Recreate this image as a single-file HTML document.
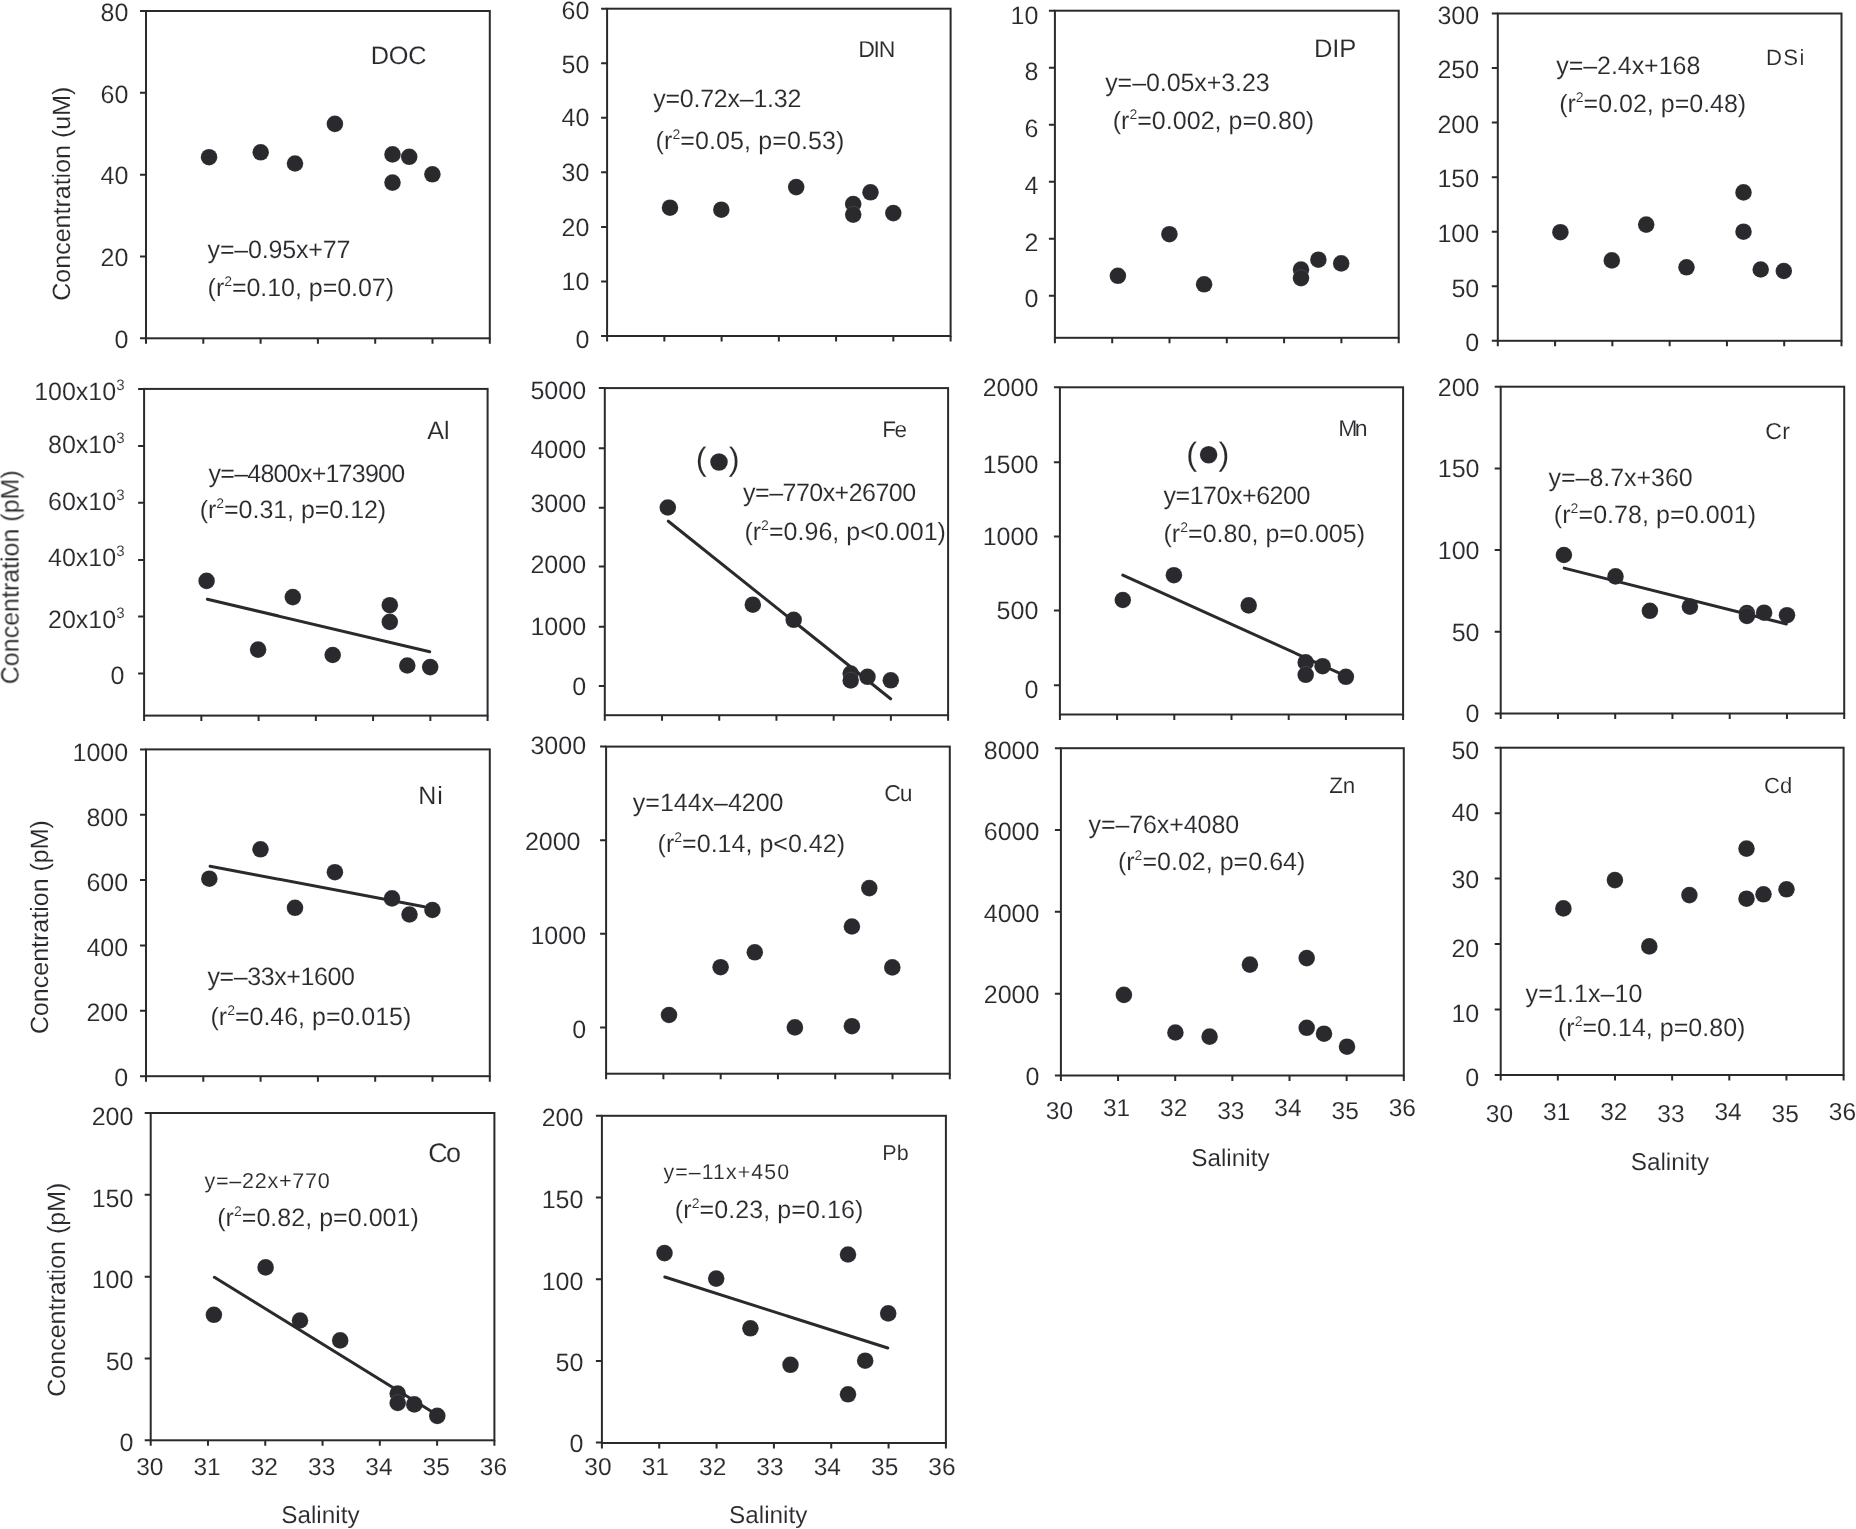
<!DOCTYPE html>
<html><head><meta charset="utf-8"><title>Figure</title>
<style>html,body{margin:0;padding:0;background:#fff;}svg{display:block;}</style>
</head><body>
<svg width="1856" height="1529" viewBox="0 0 1856 1529">
<defs><filter id="soft" x="0" y="0" width="100%" height="100%" filterUnits="userSpaceOnUse"><feGaussianBlur stdDeviation="0.4"/></filter></defs>
<rect width="1856" height="1529" fill="#fff"/>
<g filter="url(#soft)">
<g fill="#2a2a2e" font-family='"Liberation Sans", sans-serif' text-rendering="geometricPrecision" stroke="#fff" stroke-width="0.12">
<text x="128.4" y="20.9" font-size="25" text-anchor="end">80</text>
<text x="128.4" y="102.6" font-size="25" text-anchor="end">60</text>
<text x="128.4" y="184.4" font-size="25" text-anchor="end">40</text>
<text x="128.4" y="266.2" font-size="25" text-anchor="end">20</text>
<text x="128.4" y="347.9" font-size="25" text-anchor="end">0</text>
<circle cx="209.06" cy="157.2" r="8.3"/>
<circle cx="260.7" cy="152.3" r="8.3"/>
<circle cx="295" cy="163.5" r="8.3"/>
<circle cx="334.9" cy="123.9" r="8.3"/>
<circle cx="392.5" cy="154.4" r="8.3"/>
<circle cx="409.2" cy="156.8" r="8.3"/>
<circle cx="392.5" cy="182.6" r="8.3"/>
<circle cx="432.4" cy="174.3" r="8.3"/>
<text x="370.8" y="63.5" font-size="25.3" letter-spacing="-0.3">DOC</text>
<text x="207.6" y="257.8" font-size="25" textLength="142.8" lengthAdjust="spacing">y=–0.95x+77</text>
<text x="207.6" y="296.3" font-size="25" textLength="186.4" lengthAdjust="spacing">(r<tspan font-size="14" dy="-10">2</tspan><tspan font-size="25" dy="10">=0.10, p=0.07)</tspan></text>
<text x="589.3" y="18.5" font-size="25" text-anchor="end">60</text>
<text x="589.3" y="73.2" font-size="25" text-anchor="end">50</text>
<text x="589.3" y="126.2" font-size="25" text-anchor="end">40</text>
<text x="589.3" y="180.9" font-size="25" text-anchor="end">30</text>
<text x="589.3" y="236.2" font-size="25" text-anchor="end">20</text>
<text x="589.3" y="289.7" font-size="25" text-anchor="end">10</text>
<text x="589.3" y="347.9" font-size="25" text-anchor="end">0</text>
<circle cx="670" cy="207.7" r="8.3"/>
<circle cx="721.3" cy="209.7" r="8.3"/>
<circle cx="796.2" cy="187.1" r="8.3"/>
<circle cx="853.2" cy="204" r="8.3"/>
<circle cx="853.2" cy="214.6" r="8.3"/>
<circle cx="870.5" cy="192.3" r="8.3"/>
<circle cx="893.3" cy="213.1" r="8.3"/>
<text x="858.3" y="56.8" font-size="23.0" letter-spacing="-1.29">DIN</text>
<text x="653.2" y="106.6" font-size="25" textLength="148.2" lengthAdjust="spacing">y=0.72x–1.32</text>
<text x="655.6" y="148.7" font-size="25" textLength="188.7" lengthAdjust="spacing">(r<tspan font-size="14" dy="-10">2</tspan><tspan font-size="25" dy="10">=0.05, p=0.53)</tspan></text>
<text x="1038.4" y="23.8" font-size="25" text-anchor="end">10</text>
<text x="1038.4" y="80.3" font-size="25" text-anchor="end">8</text>
<text x="1038.4" y="137.3" font-size="25" text-anchor="end">6</text>
<text x="1038.4" y="194.1" font-size="25" text-anchor="end">4</text>
<text x="1038.4" y="250.9" font-size="25" text-anchor="end">2</text>
<text x="1038.4" y="307.3" font-size="25" text-anchor="end">0</text>
<circle cx="1117.9" cy="275.8" r="8.3"/>
<circle cx="1169.4" cy="234.2" r="8.3"/>
<circle cx="1204.1" cy="284.3" r="8.3"/>
<circle cx="1301" cy="269.6" r="8.3"/>
<circle cx="1301" cy="278.1" r="8.3"/>
<circle cx="1318.4" cy="259.7" r="8.3"/>
<circle cx="1341.2" cy="263.4" r="8.3"/>
<text x="1313.9" y="56.8" font-size="25.6" letter-spacing="-0.12">DIP</text>
<text x="1105.2" y="90.5" font-size="25" textLength="164.4" lengthAdjust="spacing">y=–0.05x+3.23</text>
<text x="1112.7" y="128.9" font-size="25" textLength="201.5" lengthAdjust="spacing">(r<tspan font-size="14" dy="-10">2</tspan><tspan font-size="25" dy="10">=0.002, p=0.80)</tspan></text>
<text x="1479.2" y="23.8" font-size="25" text-anchor="end">300</text>
<text x="1479.2" y="77.9" font-size="25" text-anchor="end">250</text>
<text x="1479.2" y="133.2" font-size="25" text-anchor="end">200</text>
<text x="1479.2" y="187.1" font-size="25" text-anchor="end">150</text>
<text x="1479.2" y="241.7" font-size="25" text-anchor="end">100</text>
<text x="1479.2" y="296.5" font-size="25" text-anchor="end">50</text>
<text x="1479.2" y="350.5" font-size="25" text-anchor="end">0</text>
<circle cx="1560.4" cy="232.2" r="8.3"/>
<circle cx="1611.8" cy="260.4" r="8.3"/>
<circle cx="1646.2" cy="224.6" r="8.3"/>
<circle cx="1686.5" cy="267.3" r="8.3"/>
<circle cx="1743.5" cy="192.4" r="8.3"/>
<circle cx="1743.5" cy="231.7" r="8.3"/>
<circle cx="1760.7" cy="269.5" r="8.3"/>
<circle cx="1783.8" cy="271" r="8.3"/>
<text x="1766" y="64.65" font-size="22.2" letter-spacing="1.3">DSi</text>
<text x="1556.2" y="73.7" font-size="25" textLength="144.1" lengthAdjust="spacing">y=–2.4x+168</text>
<text x="1559.2" y="112.4" font-size="25" textLength="187" lengthAdjust="spacing">(r<tspan font-size="14" dy="-10">2</tspan><tspan font-size="25" dy="10">=0.02, p=0.48)</tspan></text>
<text x="124.5" y="400.1" font-size="25" text-anchor="end">100x10<tspan font-size="15" dy="-10">3</tspan></text>
<text x="124.5" y="453.1" font-size="25" text-anchor="end">80x10<tspan font-size="15" dy="-10">3</tspan></text>
<text x="124.5" y="509.9" font-size="25" text-anchor="end">60x10<tspan font-size="15" dy="-10">3</tspan></text>
<text x="124.5" y="565.7" font-size="25" text-anchor="end">40x10<tspan font-size="15" dy="-10">3</tspan></text>
<text x="124.5" y="627.8" font-size="25" text-anchor="end">20x10<tspan font-size="15" dy="-10">3</tspan></text>
<text x="124.5" y="684.1" font-size="25" text-anchor="end">0</text>
<circle cx="206.6" cy="580.9" r="8.3"/>
<circle cx="258.1" cy="649.6" r="8.3"/>
<circle cx="292.8" cy="597.1" r="8.3"/>
<circle cx="332.7" cy="655" r="8.3"/>
<circle cx="389.8" cy="605.2" r="8.3"/>
<circle cx="389.8" cy="621.9" r="8.3"/>
<circle cx="407.3" cy="665.5" r="8.3"/>
<circle cx="430.2" cy="667.1" r="8.3"/>
<text x="427.2" y="439.4" font-size="25.1" letter-spacing="0.1">Al</text>
<text x="208.6" y="481.8" font-size="25" textLength="196.5" lengthAdjust="spacing">y=–4800x+173900</text>
<text x="199.7" y="518.2" font-size="25" textLength="186.5" lengthAdjust="spacing">(r<tspan font-size="14" dy="-10">2</tspan><tspan font-size="25" dy="10">=0.31, p=0.12)</tspan></text>
<text x="586.1" y="398.6" font-size="25" text-anchor="end">5000</text>
<text x="586.1" y="457.7" font-size="25" text-anchor="end">4000</text>
<text x="586.1" y="512.1" font-size="25" text-anchor="end">3000</text>
<text x="586.1" y="572.5" font-size="25" text-anchor="end">2000</text>
<text x="586.1" y="634.5" font-size="25" text-anchor="end">1000</text>
<text x="586.1" y="695.4" font-size="25" text-anchor="end">0</text>
<circle cx="667.8" cy="507.5" r="8.3"/>
<circle cx="752.8" cy="604.7" r="8.3"/>
<circle cx="793.7" cy="619.8" r="8.3"/>
<circle cx="850.7" cy="673.6" r="8.3"/>
<circle cx="850.7" cy="680.5" r="8.3"/>
<circle cx="867.5" cy="676.8" r="8.3"/>
<circle cx="890.8" cy="680.3" r="8.3"/>
<text x="695.7" y="470.35" font-size="32.6">(</text>
<text x="728.7" y="470.35" font-size="32.6">)</text>
<circle cx="719" cy="462" r="8.8"/>
<text x="882.2" y="436.6" font-size="22.5" letter-spacing="-1.48">Fe</text>
<text x="743.1" y="501.3" font-size="25" textLength="173" lengthAdjust="spacing">y=–770x+26700</text>
<text x="744.4" y="539.8" font-size="25" textLength="201.5" lengthAdjust="spacing">(r<tspan font-size="14" dy="-10">2</tspan><tspan font-size="25" dy="10">=0.96, p&lt;0.001)</tspan></text>
<text x="1038.3" y="395.8" font-size="25" text-anchor="end">2000</text>
<text x="1038.3" y="473.1" font-size="25" text-anchor="end">1500</text>
<text x="1038.3" y="544.9" font-size="25" text-anchor="end">1000</text>
<text x="1038.3" y="619.2" font-size="25" text-anchor="end">500</text>
<text x="1038.3" y="697.7" font-size="25" text-anchor="end">0</text>
<circle cx="1122.8" cy="600" r="8.3"/>
<circle cx="1173.9" cy="575.2" r="8.3"/>
<circle cx="1248.7" cy="605.4" r="8.3"/>
<circle cx="1305.7" cy="662.4" r="8.3"/>
<circle cx="1305.7" cy="674.8" r="8.3"/>
<circle cx="1322.6" cy="666.2" r="8.3"/>
<circle cx="1345.9" cy="676.8" r="8.3"/>
<text x="1186.2" y="465.15" font-size="32.6">(</text>
<text x="1218.6" y="465.15" font-size="32.6">)</text>
<circle cx="1208.6" cy="454.7" r="8.8"/>
<text x="1338.2" y="436" font-size="23.0" letter-spacing="-2.6">Mn</text>
<text x="1163.5" y="503.8" font-size="25" textLength="146.9" lengthAdjust="spacing">y=170x+6200</text>
<text x="1163.5" y="542.2" font-size="25" textLength="201.5" lengthAdjust="spacing">(r<tspan font-size="14" dy="-10">2</tspan><tspan font-size="25" dy="10">=0.80, p=0.005)</tspan></text>
<text x="1479.5" y="395.8" font-size="25" text-anchor="end">200</text>
<text x="1479.5" y="477.1" font-size="25" text-anchor="end">150</text>
<text x="1479.5" y="559.1" font-size="25" text-anchor="end">100</text>
<text x="1479.5" y="640.7" font-size="25" text-anchor="end">50</text>
<text x="1479.5" y="722.4" font-size="25" text-anchor="end">0</text>
<circle cx="1563.9" cy="555" r="8.3"/>
<circle cx="1615.5" cy="576.4" r="8.3"/>
<circle cx="1649.9" cy="610.8" r="8.3"/>
<circle cx="1689.9" cy="606.6" r="8.3"/>
<circle cx="1746.9" cy="613" r="8.3"/>
<circle cx="1746.9" cy="616" r="8.3"/>
<circle cx="1764.1" cy="612.7" r="8.3"/>
<circle cx="1787" cy="615.2" r="8.3"/>
<text x="1765.2" y="439.4" font-size="23.1" letter-spacing="0.5">Cr</text>
<text x="1548.6" y="485.5" font-size="25" textLength="144.1" lengthAdjust="spacing">y=–8.7x+360</text>
<text x="1553.8" y="523.3" font-size="25" textLength="202.2" lengthAdjust="spacing">(r<tspan font-size="14" dy="-10">2</tspan><tspan font-size="25" dy="10">=0.78, p=0.001)</tspan></text>
<text x="128.2" y="760.8" font-size="25" text-anchor="end">1000</text>
<text x="128.2" y="825.9" font-size="25" text-anchor="end">800</text>
<text x="128.2" y="891" font-size="25" text-anchor="end">600</text>
<text x="128.2" y="955.6" font-size="25" text-anchor="end">400</text>
<text x="128.2" y="1020.9" font-size="25" text-anchor="end">200</text>
<text x="128.2" y="1085.6" font-size="25" text-anchor="end">0</text>
<circle cx="209.3" cy="878.7" r="8.3"/>
<circle cx="260.5" cy="849.3" r="8.3"/>
<circle cx="295" cy="907.8" r="8.3"/>
<circle cx="334.9" cy="872.2" r="8.3"/>
<circle cx="392" cy="898.4" r="8.3"/>
<circle cx="409.5" cy="914.5" r="8.3"/>
<circle cx="432.4" cy="910" r="8.3"/>
<text x="418.2" y="804" font-size="25.0" letter-spacing="0.93">Ni</text>
<text x="207.5" y="985.2" font-size="25" textLength="147.4" lengthAdjust="spacing">y=–33x+1600</text>
<text x="210.5" y="1024.8" font-size="25" textLength="200.8" lengthAdjust="spacing">(r<tspan font-size="14" dy="-10">2</tspan><tspan font-size="25" dy="10">=0.46, p=0.015)</tspan></text>
<text x="586.1" y="754.2" font-size="25" text-anchor="end">3000</text>
<text x="580.5" y="850.4" font-size="25" text-anchor="end">2000</text>
<text x="586.1" y="944.2" font-size="25" text-anchor="end">1000</text>
<text x="586.1" y="1038.2" font-size="25" text-anchor="end">0</text>
<circle cx="669" cy="1015" r="8.3"/>
<circle cx="720.6" cy="967.2" r="8.3"/>
<circle cx="754.8" cy="952.3" r="8.3"/>
<circle cx="794.9" cy="1027.4" r="8.3"/>
<circle cx="851.9" cy="926.5" r="8.3"/>
<circle cx="851.9" cy="1026.2" r="8.3"/>
<circle cx="869.3" cy="888.1" r="8.3"/>
<circle cx="892.3" cy="967.4" r="8.3"/>
<text x="884.3" y="800.6" font-size="23.0" letter-spacing="-1.15">Cu</text>
<text x="632.8" y="810.5" font-size="25" textLength="150.7" lengthAdjust="spacing">y=144x–4200</text>
<text x="657.6" y="852" font-size="25" textLength="187.4" lengthAdjust="spacing">(r<tspan font-size="14" dy="-10">2</tspan><tspan font-size="25" dy="10">=0.14, p&lt;0.42)</tspan></text>
<text x="1039.4" y="758.8" font-size="25" text-anchor="end">8000</text>
<text x="1039.4" y="840.1" font-size="25" text-anchor="end">6000</text>
<text x="1039.4" y="921.8" font-size="25" text-anchor="end">4000</text>
<text x="1039.4" y="1003.1" font-size="25" text-anchor="end">2000</text>
<text x="1039.4" y="1084.9" font-size="25" text-anchor="end">0</text>
<text x="1059.4" y="1118.6" font-size="24.5" text-anchor="middle">30</text>
<text x="1116.55" y="1116" font-size="24.5" text-anchor="middle">31</text>
<text x="1173.7" y="1116" font-size="24.5" text-anchor="middle">32</text>
<text x="1230.85" y="1118.8" font-size="24.5" text-anchor="middle">33</text>
<text x="1288" y="1116" font-size="24.5" text-anchor="middle">34</text>
<text x="1345.15" y="1118.8" font-size="24.5" text-anchor="middle">35</text>
<text x="1402.3" y="1116" font-size="24.5" text-anchor="middle">36</text>
<text x="1230.4" y="1165.9" font-size="24.3" text-anchor="middle">Salinity</text>
<circle cx="1123.9" cy="994.9" r="8.3"/>
<circle cx="1175.4" cy="1032.5" r="8.3"/>
<circle cx="1209.6" cy="1036.6" r="8.3"/>
<circle cx="1249.9" cy="964.6" r="8.3"/>
<circle cx="1306.7" cy="958.1" r="8.3"/>
<circle cx="1306.7" cy="1027.8" r="8.3"/>
<circle cx="1324" cy="1033.7" r="8.3"/>
<circle cx="1347" cy="1046.7" r="8.3"/>
<text x="1329.3" y="793.3" font-size="22.4" letter-spacing="-0.27">Zn</text>
<text x="1088.5" y="832.7" font-size="25" textLength="150.6" lengthAdjust="spacing">y=–76x+4080</text>
<text x="1117.9" y="869.6" font-size="25" textLength="187.4" lengthAdjust="spacing">(r<tspan font-size="14" dy="-10">2</tspan><tspan font-size="25" dy="10">=0.02, p=0.64)</tspan></text>
<text x="1479.2" y="758.8" font-size="25" text-anchor="end">50</text>
<text x="1479.2" y="820.7" font-size="25" text-anchor="end">40</text>
<text x="1479.2" y="888.4" font-size="25" text-anchor="end">30</text>
<text x="1479.2" y="956.9" font-size="25" text-anchor="end">20</text>
<text x="1479.2" y="1021.5" font-size="25" text-anchor="end">10</text>
<text x="1479.2" y="1085.6" font-size="25" text-anchor="end">0</text>
<text x="1499.5" y="1122" font-size="24.5" text-anchor="middle">30</text>
<text x="1556.65" y="1119.7" font-size="24.5" text-anchor="middle">31</text>
<text x="1613.8" y="1119.9" font-size="24.5" text-anchor="middle">32</text>
<text x="1670.95" y="1122.4" font-size="24.5" text-anchor="middle">33</text>
<text x="1728.1" y="1119.9" font-size="24.5" text-anchor="middle">34</text>
<text x="1785.25" y="1122.4" font-size="24.5" text-anchor="middle">35</text>
<text x="1842.4" y="1119.9" font-size="24.5" text-anchor="middle">36</text>
<text x="1669.9" y="1169.8" font-size="24.3" text-anchor="middle">Salinity</text>
<circle cx="1563.4" cy="908.4" r="8.3"/>
<circle cx="1614.9" cy="880.1" r="8.3"/>
<circle cx="1649.3" cy="946.4" r="8.3"/>
<circle cx="1689.4" cy="895.1" r="8.3"/>
<circle cx="1746.5" cy="848.6" r="8.3"/>
<circle cx="1746.5" cy="898.7" r="8.3"/>
<circle cx="1763.5" cy="894.3" r="8.3"/>
<circle cx="1786.5" cy="889.3" r="8.3"/>
<text x="1763.9" y="793.4" font-size="22.0" letter-spacing="0.17">Cd</text>
<text x="1525.6" y="1001.7" font-size="25" textLength="116.8" lengthAdjust="spacing">y=1.1x–10</text>
<text x="1558" y="1036.4" font-size="25" textLength="187.4" lengthAdjust="spacing">(r<tspan font-size="14" dy="-10">2</tspan><tspan font-size="25" dy="10">=0.14, p=0.80)</tspan></text>
<text x="133.45" y="1125.1" font-size="25" text-anchor="end">200</text>
<text x="133.45" y="1207.2" font-size="25" text-anchor="end">150</text>
<text x="133.45" y="1288.3" font-size="25" text-anchor="end">100</text>
<text x="133.45" y="1370.4" font-size="25" text-anchor="end">50</text>
<text x="133.45" y="1451.2" font-size="25" text-anchor="end">0</text>
<text x="149.8" y="1475.3" font-size="24.5" text-anchor="middle">30</text>
<text x="207.08" y="1475.3" font-size="24.5" text-anchor="middle">31</text>
<text x="264.37" y="1475.3" font-size="24.5" text-anchor="middle">32</text>
<text x="321.65" y="1475.3" font-size="24.5" text-anchor="middle">33</text>
<text x="378.93" y="1475.3" font-size="24.5" text-anchor="middle">34</text>
<text x="436.22" y="1475.3" font-size="24.5" text-anchor="middle">35</text>
<text x="493.5" y="1475.3" font-size="24.5" text-anchor="middle">36</text>
<text x="320.4" y="1523.1" font-size="24.3" text-anchor="middle">Salinity</text>
<circle cx="213.9" cy="1314.8" r="8.3"/>
<circle cx="265.6" cy="1267.4" r="8.3"/>
<circle cx="300" cy="1320.5" r="8.3"/>
<circle cx="340.2" cy="1340.4" r="8.3"/>
<circle cx="397.7" cy="1393.5" r="8.3"/>
<circle cx="397.7" cy="1403" r="8.3"/>
<circle cx="414.3" cy="1404.4" r="8.3"/>
<circle cx="437.3" cy="1415.9" r="8.3"/>
<text x="428.3" y="1162.2" font-size="26.9" letter-spacing="-1.7">Co</text>
<text x="204.4" y="1188.1" font-size="21.6" textLength="125.4" lengthAdjust="spacing">y=–22x+770</text>
<text x="217.2" y="1226.2" font-size="25" textLength="201.6" lengthAdjust="spacing">(r<tspan font-size="14" dy="-10">2</tspan><tspan font-size="25" dy="10">=0.82, p=0.001)</tspan></text>
<text x="583.35" y="1125.9" font-size="25" text-anchor="end">200</text>
<text x="583.35" y="1207.8" font-size="25" text-anchor="end">150</text>
<text x="583.35" y="1289.6" font-size="25" text-anchor="end">100</text>
<text x="583.35" y="1371" font-size="25" text-anchor="end">50</text>
<text x="583.35" y="1452.4" font-size="25" text-anchor="end">0</text>
<text x="598" y="1475.3" font-size="24.5" text-anchor="middle">30</text>
<text x="655.33" y="1475.3" font-size="24.5" text-anchor="middle">31</text>
<text x="712.67" y="1475.3" font-size="24.5" text-anchor="middle">32</text>
<text x="770" y="1475.3" font-size="24.5" text-anchor="middle">33</text>
<text x="827.33" y="1475.3" font-size="24.5" text-anchor="middle">34</text>
<text x="884.67" y="1475.3" font-size="24.5" text-anchor="middle">35</text>
<text x="942" y="1475.3" font-size="24.5" text-anchor="middle">36</text>
<text x="768.2" y="1523.1" font-size="24.3" text-anchor="middle">Salinity</text>
<circle cx="664.5" cy="1253.1" r="8.3"/>
<circle cx="716.2" cy="1278.6" r="8.3"/>
<circle cx="750.4" cy="1328.3" r="8.3"/>
<circle cx="790.5" cy="1364.8" r="8.3"/>
<circle cx="848" cy="1254.5" r="8.3"/>
<circle cx="848" cy="1394.3" r="8.3"/>
<circle cx="865.2" cy="1360.7" r="8.3"/>
<circle cx="888.2" cy="1313.4" r="8.3"/>
<text x="882.2" y="1159.5" font-size="21.5" letter-spacing="0.27">Pb</text>
<text x="663.6" y="1178.7" font-size="21.3" textLength="125.4" lengthAdjust="spacing">y=–11x+450</text>
<text x="674.8" y="1217.5" font-size="25" textLength="188.6" lengthAdjust="spacing">(r<tspan font-size="14" dy="-10">2</tspan><tspan font-size="25" dy="10">=0.23, p=0.16)</tspan></text>
<text transform="translate(70.3 193.7) rotate(-90)" font-size="25" text-anchor="middle">Concentration (uM)</text>
<text transform="translate(18.5 577.3) rotate(-90)" font-size="25" text-anchor="middle">Concentration (pM)</text>
<text transform="translate(47.7 927.1) rotate(-90)" font-size="25" text-anchor="middle">Concentration (pM)</text>
<text transform="translate(65 1289.7) rotate(-90)" font-size="25" text-anchor="middle">Concentration (pM)</text>
</g>
<g fill="none" stroke="#2a2a2e" stroke-width="2" stroke-linecap="butt"><rect x="146" y="11" width="343.8" height="327.3" fill="none"/><path d="M140 11H146M140 92.83H146M140 174.65H146M140 256.48H146M140 338.3H146M146 338.3V343.8M203.3 338.3V343.8M260.6 338.3V343.8M317.9 338.3V343.8M375.2 338.3V343.8M432.5 338.3V343.8M489.8 338.3V343.8"/><rect x="607.1" y="8.7" width="343.5" height="327.3" fill="none"/><path d="M601.1 8.7H607.1M601.1 63.25H607.1M601.1 117.8H607.1M601.1 172.35H607.1M601.1 226.9H607.1M601.1 281.45H607.1M601.1 336H607.1M607.1 336V341.5M664.35 336V341.5M721.6 336V341.5M778.85 336V341.5M836.1 336V341.5M893.35 336V341.5M950.6 336V341.5"/><rect x="1054.9" y="10.7" width="343.8" height="327.1" fill="none"/><path d="M1048.9 10.7H1054.9M1048.9 67.7H1054.9M1048.9 124.7H1054.9M1048.9 181.7H1054.9M1048.9 238.7H1054.9M1048.9 295.7H1054.9M1054.9 337.8V343.3M1112.2 337.8V343.3M1169.5 337.8V343.3M1226.8 337.8V343.3M1284.1 337.8V343.3M1341.4 337.8V343.3M1398.7 337.8V343.3"/><rect x="1497.8" y="13.5" width="343.7" height="327.3" fill="none"/><path d="M1491.8 13.5H1497.8M1491.8 68.05H1497.8M1491.8 122.6H1497.8M1491.8 177.15H1497.8M1491.8 231.7H1497.8M1491.8 286.25H1497.8M1491.8 340.8H1497.8M1497.8 340.8V346.3M1555.08 340.8V346.3M1612.37 340.8V346.3M1669.65 340.8V346.3M1726.93 340.8V346.3M1784.22 340.8V346.3M1841.5 340.8V346.3"/><rect x="144.1" y="388.9" width="343.5" height="326.7" fill="none"/><path d="M138.1 388.9H144.1M138.1 446H144.1M138.1 502.8H144.1M138.1 559.9H144.1M138.1 616.5H144.1M138.1 673.6H144.1M144.1 715.6V721.1M201.35 715.6V721.1M258.6 715.6V721.1M315.85 715.6V721.1M373.1 715.6V721.1M430.35 715.6V721.1M487.6 715.6V721.1"/><line x1="207.37" y1="599.3" x2="429.73" y2="651.7" stroke-width="3" stroke-linecap="round"/><rect x="604.8" y="388.1" width="343.3" height="327.1" fill="none"/><path d="M598.8 388.1H604.8M598.8 448.3H604.8M598.8 507.8H604.8M598.8 566.5H604.8M598.8 626.8H604.8M598.8 686H604.8M604.8 715.2V720.7M662.02 715.2V720.7M719.23 715.2V720.7M776.45 715.2V720.7M833.67 715.2V720.7M890.88 715.2V720.7M948.1 715.2V720.7"/><line x1="668.32" y1="521.21" x2="890.58" y2="698.79" stroke-width="3" stroke-linecap="round"/><rect x="1059.9" y="387.3" width="343.2" height="327.2" fill="none"/><path d="M1053.9 387.3H1059.9M1053.9 462.2H1059.9M1053.9 536.5H1059.9M1053.9 610.4H1059.9M1053.9 685.2H1059.9M1059.9 714.5V720M1117.1 714.5V720M1174.3 714.5V720M1231.5 714.5V720M1288.7 714.5V720M1345.9 714.5V720M1403.1 714.5V720"/><line x1="1122.78" y1="575.04" x2="1350.42" y2="678.06" stroke-width="3" stroke-linecap="round"/><rect x="1500.7" y="386.7" width="343.5" height="326.8" fill="none"/><path d="M1494.7 386.7H1500.7M1494.7 468.4H1500.7M1494.7 550.1H1500.7M1494.7 631.8H1500.7M1494.7 713.5H1500.7M1500.7 713.5V719M1557.95 713.5V719M1615.2 713.5V719M1672.45 713.5V719M1729.7 713.5V719M1786.95 713.5V719M1844.2 713.5V719"/><line x1="1564.16" y1="568.12" x2="1786.44" y2="623.98" stroke-width="3" stroke-linecap="round"/><rect x="146" y="749.4" width="343.8" height="326.8" fill="none"/><path d="M140 749.4H146M140 814.76H146M140 880.12H146M140 945.48H146M140 1010.84H146M140 1076.2H146M146 1076.2V1081.7M203.3 1076.2V1081.7M260.6 1076.2V1081.7M317.9 1076.2V1081.7M375.2 1076.2V1081.7M432.5 1076.2V1081.7M489.8 1076.2V1081.7"/><line x1="210.08" y1="866.24" x2="424.32" y2="906.76" stroke-width="3" stroke-linecap="round"/><rect x="606.1" y="746.6" width="343.7" height="327.1" fill="none"/><path d="M600.1 746.6H606.1M600.1 840.3H606.1M600.1 933.7H606.1M600.1 1027.4H606.1M606.1 1073.7V1079.2M663.38 1073.7V1079.2M720.67 1073.7V1079.2M777.95 1073.7V1079.2M835.23 1073.7V1079.2M892.52 1073.7V1079.2M949.8 1073.7V1079.2"/><rect x="1060.9" y="748.2" width="342.9" height="327.3" fill="none"/><path d="M1054.9 748.2H1060.9M1054.9 830.03H1060.9M1054.9 911.85H1060.9M1054.9 993.67H1060.9M1054.9 1075.5H1060.9M1060.9 1075.5V1081M1118.05 1075.5V1081M1175.2 1075.5V1081M1232.35 1075.5V1081M1289.5 1075.5V1081M1346.65 1075.5V1081M1403.8 1075.5V1081"/><rect x="1500.7" y="747.7" width="342.9" height="327.3" fill="none"/><path d="M1494.7 747.7H1500.7M1494.7 813.16H1500.7M1494.7 878.62H1500.7M1494.7 944.08H1500.7M1494.7 1009.54H1500.7M1494.7 1075H1500.7M1500.7 1075V1080.5M1557.85 1075V1080.5M1615 1075V1080.5M1672.15 1075V1080.5M1729.3 1075V1080.5M1786.45 1075V1080.5M1843.6 1075V1080.5"/><rect x="150.7" y="1113" width="343.7" height="327.3" fill="none"/><path d="M144.7 1113H150.7M144.7 1194.83H150.7M144.7 1276.65H150.7M144.7 1358.47H150.7M144.7 1440.3H150.7M150.7 1440.3V1445.8M207.98 1440.3V1445.8M265.27 1440.3V1445.8M322.55 1440.3V1445.8M379.83 1440.3V1445.8M437.12 1440.3V1445.8M494.4 1440.3V1445.8"/><line x1="214.41" y1="1277.28" x2="435.29" y2="1413.72" stroke-width="3" stroke-linecap="round"/><rect x="601.9" y="1115.8" width="344" height="327.2" fill="none"/><path d="M595.9 1115.8H601.9M595.9 1197.5H601.9M595.9 1279.2H601.9M595.9 1360.9H601.9M595.9 1442.6H601.9M601.9 1443V1448.5M659.23 1443V1448.5M716.57 1443V1448.5M773.9 1443V1448.5M831.23 1443V1448.5M888.57 1443V1448.5M945.9 1443V1448.5"/><line x1="664.84" y1="1276.99" x2="887.76" y2="1348.01" stroke-width="3" stroke-linecap="round"/></g>
</g>
</svg>
</body></html>
